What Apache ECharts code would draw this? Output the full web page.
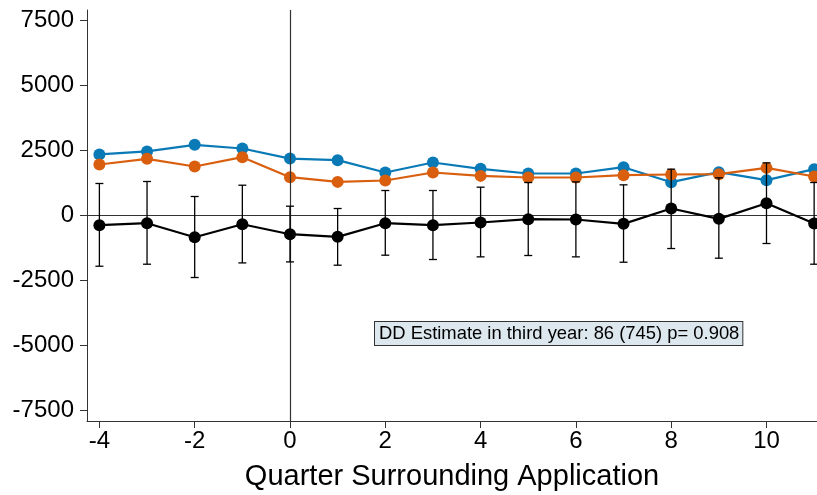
<!DOCTYPE html>
<html>
<head>
<meta charset="utf-8">
<script src="https://cdn.jsdelivr.net/npm/echarts@6/dist/echarts.min.js"></script>
<style>html,body{margin:0;padding:0;background:#fff}#c{width:817px;height:495px}</style>
</head>
<body>
<div id="c"></div>
<script>
const quarters = [-4,-3,-2,-1,0,1,2,3,4,5,6,7,8,9,10,11];
const treated  = [2350,2465,2720,2580,2190,2130,1655,2040,1795,1617,1617,1860,1282,1667,1359,1783];
const control  = [1963,2180,1886,2244,1475,1294,1347,1655,1525,1463,1463,1552,1578,1590,1833,1502];
const diff     = [-373,-296,-835,-335,-720,-822,-296,-373,-270,-142,-154,-322,269,-129,474,-309];
const ciHigh   = [1232,1309,731,1166,358,269,962,962,1090,1270,1294,1180,1783,1450,2026,1270];
const ciLow    = [-1952,-1875,-2387,-1825,-1786,-1913,-1528,-1694,-1592,-1540,-1592,-1798,-1271,-1643,-1078,-1875];
const xTicks   = [-4,-2,0,2,4,6,8,10];
const yTicks   = [-7500,-5000,-2500,0,2500,5000,7500];
const note     = 'DD Estimate in third year: 86 (745) p= 0.908';

const chart = echarts.init(document.getElementById('c'), null, {renderer:'canvas'});
const font = 'Liberation Sans, Arial, sans-serif';
const pair = a => quarters.map((q,i)=>[q,a[i]]);

chart.setOption({
  animation:false,
  backgroundColor:'#ffffff',
  grid:{left:87,right:0,top:10,bottom:74,containLabel:false,outerBoundsMode:'none'},
  xAxis:{
    type:'value', min:-4.26, max:11.06,
    name:'Quarter Surrounding Application', nameLocation:'middle', nameGap:41,
    nameTextStyle:{fontFamily:font,fontSize:29,color:'#000'},
    axisLine:{show:true,onZero:false,lineStyle:{color:'#333',width:1}},
    axisTick:{show:true,length:7,customValues:xTicks,lineStyle:{color:'#333'}},
    axisLabel:{customValues:xTicks,fontFamily:font,fontSize:24,color:'#000',margin:8,
      formatter:v=>String(v)},
    splitLine:{show:false}
  },
  yAxis:{
    type:'value', min:-7910, max:7910,
    axisLine:{show:true,onZero:false,lineStyle:{color:'#333',width:1}},
    axisTick:{show:true,length:7,customValues:yTicks,lineStyle:{color:'#333'}},
    axisLabel:{customValues:yTicks,fontFamily:font,fontSize:24,color:'#000',margin:13,
      formatter:v=>String(v)},
    splitLine:{show:false}
  },
  series:[
    {
      type:'line', data:pair(treated), symbol:'circle', symbolSize:12,
      itemStyle:{color:'#0a7ab6'}, lineStyle:{color:'#0a7ab6',width:2.2}, z:3,
      markLine:{
        silent:true, symbol:'none', label:{show:false},
        lineStyle:{color:'#333',width:1.2,type:'solid'},
        data:[{xAxis:0},{yAxis:0}]
      }
    },
    {
      type:'line', data:pair(control), symbol:'circle', symbolSize:12,
      itemStyle:{color:'#d95f0e'}, lineStyle:{color:'#d95f0e',width:2.2}, z:4
    },
    {
      type:'custom', z:5,
      data:quarters.map((q,i)=>[q,ciLow[i],ciHigh[i]]),
      renderItem:function(params,api){
        const lo = api.coord([api.value(0),api.value(1)]);
        const hi = api.coord([api.value(0),api.value(2)]);
        const w = 4;
        const st = {stroke:'#000',lineWidth:1.3};
        return {type:'group',children:[
          {type:'line',shape:{x1:lo[0],y1:lo[1],x2:hi[0],y2:hi[1]},style:st},
          {type:'line',shape:{x1:lo[0]-w,y1:lo[1],x2:lo[0]+w,y2:lo[1]},style:st},
          {type:'line',shape:{x1:hi[0]-w,y1:hi[1],x2:hi[0]+w,y2:hi[1]},style:st}
        ]};
      }
    },
    {
      type:'line', data:pair(diff), symbol:'circle', symbolSize:12,
      itemStyle:{color:'#000'}, lineStyle:{color:'#000',width:2.2}, z:6
    }
  ],
  graphic:[{
    type:'text', left:374, top:321, z:10,
    style:{
      text:note, fontFamily:font, fontSize:18.4, fill:'#000',
      backgroundColor:'#dde7ee', borderColor:'#333', borderWidth:1,
      padding:[3,3,2,4]
    }
  }]
});
</script>
</body>
</html>
